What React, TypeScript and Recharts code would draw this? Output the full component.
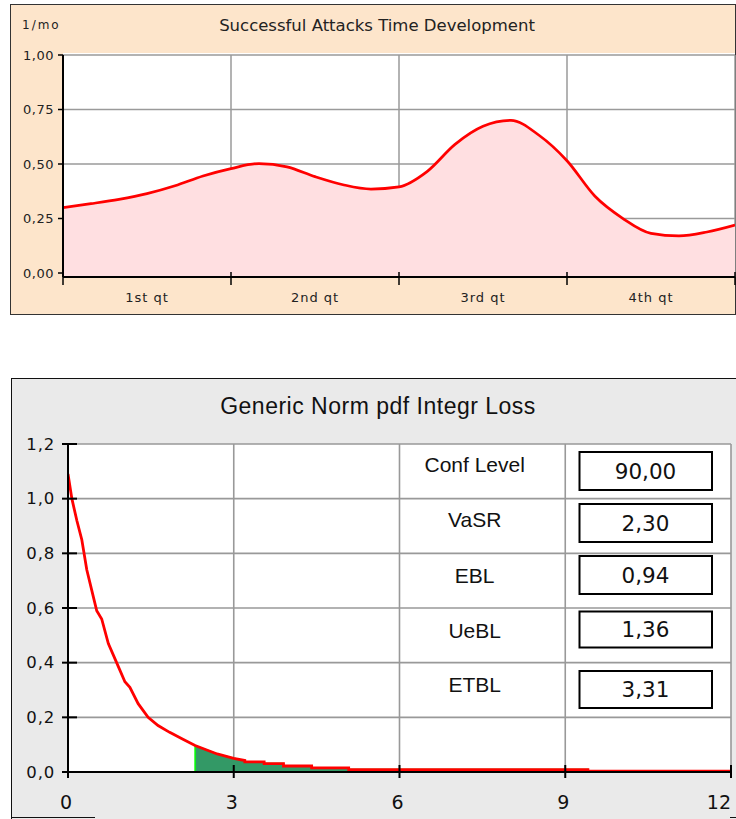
import React from 'react';
import { AreaChart, ComposedChart, Area, Line, XAxis, YAxis, CartesianGrid } from 'recharts';

// ---------- Top chart data ----------
const months = [0, 0.5, 1, 1.5, 2, 2.5, 3, 3.5, 4, 4.5, 5, 5.5, 6, 6.5, 7, 7.5, 8, 8.5, 9, 9.5, 10, 10.5, 11, 11.5, 12];
const attackRate = [0.3, 0.318, 0.338, 0.364, 0.4, 0.445, 0.479, 0.502, 0.487, 0.442, 0.405, 0.385, 0.395, 0.465, 0.59, 0.673, 0.7, 0.632, 0.515, 0.352, 0.25, 0.182, 0.17, 0.188, 0.22];
const quarterLabels = ['1st qt', '2nd qt', '3rd qt', '4th qt'];
const quarterBounds = [0, 3, 6, 9, 12];
const rateTicks = [0, 0.25, 0.5, 0.75, 1];

// ---------- Bottom chart data ----------
const lossValues = [0, 0.07, 0.16, 0.25, 0.34, 0.46, 0.52, 0.61, 0.73, 0.88, 1.03, 1.12, 1.27, 1.45, 1.63, 1.84, 2.08, 2.3, 2.3, 2.7, 3.0, 3.2, 3.2, 3.55, 3.55, 3.9, 3.9, 4.41, 4.41, 5.08, 5.08, 9.41, 9.41, 12];
const pdfValues = [1.09, 1.0, 0.92, 0.85, 0.74, 0.64, 0.59, 0.56, 0.47, 0.4, 0.33, 0.31, 0.25, 0.2, 0.17, 0.145, 0.12, 0.097, 0.097, 0.066, 0.05, 0.042, 0.037, 0.037, 0.031, 0.031, 0.022, 0.022, 0.015, 0.015, 0.009, 0.009, 0.003, 0.003];
const tailValues = [0, 0, 0, 0, 0, 0, 0, 0, 0, 0, 0, 0, 0, 0, 0, 0, 0, 0, 0.097, 0.066, 0.05, 0.042, 0.037, 0.037, 0.031, 0.031, 0.022, 0.022, 0.015, 0.015, 0.009, 0.009, 0.003, 0.003];
const lossTicks = [0, 3, 6, 9, 12];
const densityTicks = [0, 0.2, 0.4, 0.6, 0.8, 1.0, 1.2];

const statLabels = ['Conf Level', 'VaSR', 'EBL', 'UeBL', 'ETBL'];
const statValues = [90, 2.3, 0.94, 1.36, 3.31];

// ---------- layout / style constants ----------
const Y_MIN_TOP = -0.0183;
const VERDANA = "'DejaVu Sans', Verdana, sans-serif";
const ARIAL = "'Liberation Sans', Arial, sans-serif";
const rowLayout = [
  { labelY: 464, boxTop: 452, boxH: 38 },
  { labelY: 519, boxTop: 504, boxH: 38 },
  { labelY: 575.5, boxTop: 556, boxH: 38 },
  { labelY: 630, boxTop: 611.5, boxH: 36 },
  { labelY: 684, boxTop: 671, boxH: 37 },
];

const fmt = (v: number, d: number) => v.toFixed(d).replace('.', ',');

const topData = months.map((m, i) => ({ month: m, rate: attackRate[i] }));
const topXTicks = [
  ...quarterBounds,
  ...quarterLabels.map((_, i) => (quarterBounds[i] + quarterBounds[i + 1]) / 2),
].sort((a, b) => a - b);

const bottomData = lossValues.map((x, i) => ({ loss: x, pdf: pdfValues[i], tail: tailValues[i] }));

const TopXTick = (p: any) => {
  const { x, y, payload } = p;
  const v = payload.value;
  if (quarterBounds.indexOf(v) >= 0) {
    return <line x1={x} x2={x} y1={y - 5} y2={y + 8} stroke="#000" strokeWidth={1.5} />;
  }
  const li = quarterBounds.findIndex((b, i) => v > b && v < quarterBounds[i + 1]);
  return (
    <text x={x} y={y + 20} textAnchor="middle" dominantBaseline="central" fontFamily={VERDANA} fontSize={13} letterSpacing={1} fill="#222">
      {quarterLabels[li]}
    </text>
  );
};

const TopYTick = (p: any) => {
  const { x, y, payload } = p;
  return (
    <g>
      <line x1={x - 5} x2={x} y1={y} y2={y} stroke="#000" strokeWidth={1.5} />
      <text x={x - 9} y={y} textAnchor="end" dominantBaseline="central" fontFamily={VERDANA} fontSize={13} letterSpacing={0.5} fill="#222">
        {fmt(payload.value, 2)}
      </text>
    </g>
  );
};

const LossTick = (p: any) => {
  const { x, y, payload } = p;
  const v = payload.value;
  const last = v === lossTicks[lossTicks.length - 1];
  return (
    <g>
      <line x1={x} x2={x} y1={y - 7} y2={y + 6} stroke="#000" strokeWidth={2} />
      <text x={last ? x : x - 2} y={y + 30} textAnchor={last ? 'end' : 'middle'} dominantBaseline="central" fontFamily={VERDANA} fontSize={19} fill="#111">
        {String(v)}
      </text>
    </g>
  );
};

const DensityTick = (p: any) => {
  const { x, y, payload } = p;
  return (
    <g>
      <line x1={x - 6} x2={x + 9} y1={y} y2={y} stroke="#000" strokeWidth={2} />
      <text x={x - 13} y={y} textAnchor="end" dominantBaseline="central" fontFamily={VERDANA} fontSize={16.5} letterSpacing={0.8} fill="#111">
        {fmt(payload.value, 1)}
      </text>
    </g>
  );
};

export default function App() {
  return (
    <div style={{ position: 'absolute', left: 0, top: 0, width: 736, height: 819, overflow: 'hidden', background: '#fff' }}>
      {/* Top panel */}
      <div style={{ position: 'absolute', left: 10, top: 4, width: 726, height: 311, boxSizing: 'border-box', border: '1.5px solid #333', background: '#FDE5CB' }} />
      <div style={{ position: 'absolute', left: 63, top: 53, width: 672, height: 224, background: '#fff' }} />
      <div style={{ position: 'absolute', left: 0, top: 0 }}>
        <AreaChart width={736} height={319} data={topData} margin={{ top: 55, right: 1, bottom: 0, left: 0 }}>
          <CartesianGrid stroke="#9a9a9a" strokeWidth={1.5} horizontalValues={rateTicks} verticalValues={quarterBounds} />
          <Area
            type="monotone"
            dataKey="rate"
            stroke="#ff0000"
            strokeWidth={2.7}
            fill="#FFDFE1"
            fillOpacity={1}
            baseValue={Y_MIN_TOP}
            isAnimationActive={false}
            dot={false}
            activeDot={false}
          />
          <XAxis
            dataKey="month"
            type="number"
            domain={[0, 12]}
            allowDataOverflow
            ticks={topXTicks}
            interval={0}
            height={42}
            tickSize={0}
            tickMargin={0}
            tickLine={false}
            axisLine={{ stroke: '#000', strokeWidth: 2 }}
            tick={<TopXTick />}
          />
          <YAxis
            type="number"
            domain={[Y_MIN_TOP, 1]}
            allowDataOverflow
            ticks={rateTicks}
            interval={0}
            width={63}
            tickSize={0}
            tickMargin={0}
            tickLine={false}
            axisLine={{ stroke: '#000', strokeWidth: 2 }}
            tick={<TopYTick />}
          />
        </AreaChart>
      </div>

      {/* Bottom panel */}
      <div style={{ position: 'absolute', left: 11, top: 378, width: 725, height: 441, boxSizing: 'border-box', borderTop: '1.5px solid #111', borderLeft: '1.5px solid #111', background: '#EAEAEA' }} />
      <div style={{ position: 'absolute', left: 11, top: 816.5, width: 84, height: 1.5, background: '#111' }} />
      <div style={{ position: 'absolute', left: 730, top: 816.5, width: 6, height: 1.5, background: '#111' }} />
      <div style={{ position: 'absolute', left: 68, top: 444, width: 663, height: 328, background: '#fff' }} />
      <div style={{ position: 'absolute', left: 0, top: 378 }}>
        <ComposedChart width={736} height={441} data={bottomData} margin={{ top: 66, right: 5, bottom: 0, left: 0 }}>
          <CartesianGrid stroke="#999" strokeWidth={1.6} horizontalValues={densityTicks} verticalValues={lossTicks} />
          <Line type="linear" dataKey="pdf" stroke="#ff0000" strokeWidth={2.8} dot={false} activeDot={false} isAnimationActive={false} />
          <Area type="linear" dataKey="tail" stroke="#00ff00" strokeWidth={1.5} fill="#339966" fillOpacity={1} baseValue={0} dot={false} activeDot={false} isAnimationActive={false} />
          <XAxis
            dataKey="loss"
            type="number"
            domain={[0, 12]}
            allowDataOverflow
            ticks={lossTicks}
            interval={0}
            height={47}
            tickSize={0}
            tickMargin={0}
            tickLine={false}
            axisLine={{ stroke: '#000', strokeWidth: 2 }}
            tick={<LossTick />}
          />
          <YAxis
            type="number"
            domain={[0, 1.2]}
            allowDataOverflow
            ticks={densityTicks}
            interval={0}
            width={68}
            tickSize={0}
            tickMargin={0}
            tickLine={false}
            axisLine={{ stroke: '#000', strokeWidth: 2 }}
            tick={<DensityTick />}
          />
        </ComposedChart>
      </div>

      {/* Static texts overlay */}
      <svg width={736} height={819} style={{ position: 'absolute', left: 0, top: 0, pointerEvents: 'none' }}>
        <text x={22} y={25} dominantBaseline="central" fontFamily={VERDANA} fontSize={12} letterSpacing={2} fill="#222">1/mo</text>
        <text x={377} y={25.5} textAnchor="middle" dominantBaseline="central" fontFamily={VERDANA} fontSize={16.5} fill="#222">Successful Attacks Time Development</text>
        <text x={378} y={406} textAnchor="middle" dominantBaseline="central" fontFamily={ARIAL} fontSize={23} letterSpacing={0.5} fill="#111">Generic Norm pdf Integr Loss</text>
        {statLabels.map((lab, i) => (
          <g key={lab}>
            <text x={474.7} y={rowLayout[i].labelY} textAnchor="middle" dominantBaseline="central" fontFamily={ARIAL} fontSize={21} fill="#111">{lab}</text>
            <rect x={579.5} y={rowLayout[i].boxTop} width={132.5} height={rowLayout[i].boxH} fill="#fff" stroke="#000" strokeWidth={2} />
            <text x={645.5} y={rowLayout[i].boxTop + rowLayout[i].boxH / 2} textAnchor="middle" dominantBaseline="central" fontFamily={VERDANA} fontSize={21.5} fill="#111">{fmt(statValues[i], 2)}</text>
          </g>
        ))}
      </svg>
    </div>
  );
}
